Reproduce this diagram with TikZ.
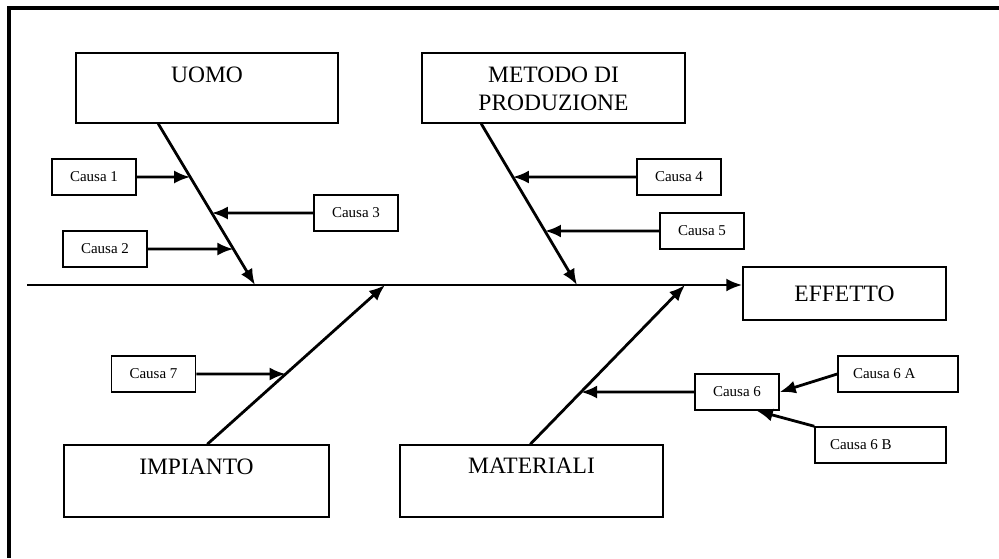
\documentclass[tikz,border=0pt]{standalone}
\usepackage{fontspec}
\setmainfont{Liberation Serif}
\usetikzlibrary{arrows.meta}

\begin{document}
\begin{tikzpicture}[x=1pt,y=-1pt,
		bigbox/.style={draw, line width=1.5pt, inner sep=0pt},
		bigfont/.style={font=\fontsize{23.5pt}{28pt}\selectfont},
		bigtext/.style={bigfont, inner sep=0pt, align=center, anchor=north},
		causa/.style={draw, line width=1.5pt, minimum width=84pt, minimum height=36pt, inner sep=0pt, font=\fontsize{15pt}{18pt}\selectfont},
		causasx/.style={causa, inner xsep=15pt},
		freccia/.style={-{Latex[length=16pt,width=13pt]}, line width=2.8pt}]
			\useasboundingbox (0,0) rectangle (999,558);
			\draw[line width=4.5pt] (999,8) -- (9,8) -- (9,558);

			% categorie
			\node[bigbox, minimum width=262pt, minimum height=70pt] (uomo) at (207,88) {};
			\node[bigtext] (uomot) at ([yshift=-14pt]uomo.north) {UOMO};
			\node[bigbox, minimum width=263pt, minimum height=70pt] (metodo) at (553.5,88) {};
			\node[bigtext] (metodot) at ([yshift=-14pt]metodo.north) {METODO DI\\PRODUZIONE};
			\node[bigbox, minimum width=265pt, minimum height=72pt] (impianto) at (196.5,481) {};
			\node[bigtext] (impiantot) at ([yshift=-14pt]impianto.north) {IMPIANTO};
			\node[bigbox, minimum width=263pt, minimum height=72pt] (materiali) at (531.5,481) {};
			\node[bigtext] (materialit) at ([yshift=-14pt]materiali.north) {MATERIALI};
			\node[bigbox, bigfont, minimum width=203pt, minimum height=53pt] (effetto) at (844.5,293.5) {EFFETTO};

			% spina
			\coordinate (coda) at (27,285);
			\draw[freccia] (coda) -- (coda -| effetto.west);
			\coordinate (u1) at (255,285);
			\draw[freccia] ([xshift=83pt]uomo.south west) coordinate (u0) -- (u1);
			\coordinate (m1) at (577,285);
			\draw[freccia] ([xshift=60pt]metodo.south west) coordinate (m0) -- (m1);
			\coordinate (i1) at (385,285);
			\draw[freccia] ([xshift=144pt]impianto.north west) coordinate (i0) -- (i1);
			\coordinate (t1) at (685,285);
			\draw[freccia] ([xshift=131pt]materiali.north west) coordinate (t0) -- (t1);

			% cause
			\node[causa] (c1) at (94,177) {Causa 1};
			\node[causa] (c2) at (105,249) {Causa 2};
			\node[causa] (c3) at (356,213) {Causa 3};
			\node[causa] (c4) at (679,177) {Causa 4};
			\node[causa] (c5) at (702,231) {Causa 5};
			\node[causa] (c7) at (153.5,374) {Causa 7};
			\node[causa] (c6) at (737,392) {Causa 6};
			\node[causasx] (c6a) at (898,374) {\makebox[90pt][l]{Causa 6 A}};
			\node[causasx] (c6b) at (880.5,445) {\makebox[101pt][l]{Causa 6 B}};

			\draw[freccia] (c1.east) -- (intersection of u0--u1 and c1.east--c1.west);
			\draw[freccia] (c2.east) -- (intersection of u0--u1 and c2.east--c2.west);
			\draw[freccia] (c3.west) -- (intersection of u0--u1 and c3.west--c3.east);
			\draw[freccia] (c4.west) -- (intersection of m0--m1 and c4.west--c4.east);
			\draw[freccia] (c5.west) -- (intersection of m0--m1 and c5.west--c5.east);
			\draw[freccia] (c7.east) -- (intersection of i0--i1 and c7.east--c7.west);
			\draw[freccia] (c6.west) -- (intersection of t0--t1 and c6.west--c6.east);
			\draw[freccia] (c6a.west) -- (c6.east);
			\draw[freccia] (c6b.north west) -- ([xshift=-23pt]c6.south east);
		\end{tikzpicture}
\end{document}
